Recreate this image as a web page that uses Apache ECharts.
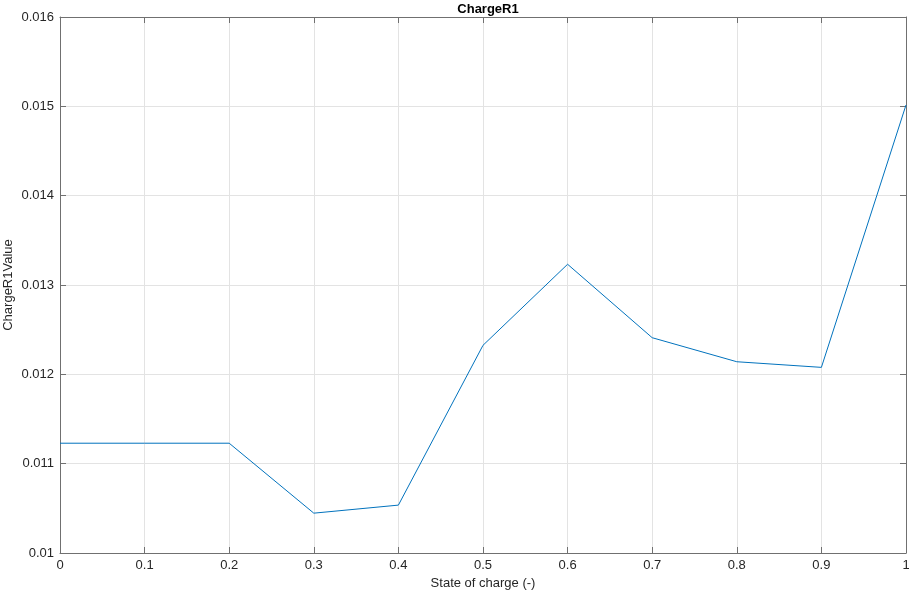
<!DOCTYPE html>
<html><head><meta charset="utf-8">
<script src="https://cdn.jsdelivr.net/npm/echarts@6/dist/echarts.min.js"></script>
<style>html,body{margin:0;padding:0;background:#fff}#c{width:909px;height:593px}</style>
</head><body><div id="c"></div>
<script>
const xValues = [0, 0.1, 0.2, 0.3, 0.4, 0.5, 0.6, 0.7, 0.8, 0.9, 1.0];
const yValues = [0.011229, 0.011229, 0.011229, 0.010446, 0.010536, 0.012325, 0.013232, 0.01241, 0.012141, 0.012078, 0.015015];
const xTicks = [0, 0.1, 0.2, 0.3, 0.4, 0.5, 0.6, 0.7, 0.8, 0.9, 1];
const yTicks = [0.01, 0.011, 0.012, 0.013, 0.014, 0.015, 0.016];

const font = 'Liberation Sans, Arial, sans-serif';
const axisCol = '#707070';
const chart = echarts.init(document.getElementById('c'));
const common = {
  axisLine: {show: true, onZero: false, lineStyle: {color: axisCol, width: 1}},
  axisTick: {show: true, inside: true, length: 6, lineStyle: {color: axisCol}},
  minorTick: {show: false}
};
chart.setOption({
  animation: false,
  title: {text: 'ChargeR1', left: 483, top: -2, textAlign: 'center',
    textStyle: {fontFamily: font, fontSize: 13, fontWeight: 'bold', color: '#000'}},
  grid: {left: 60, right: 3, top: 17, bottom: 40, containLabel: false, outerBoundsMode: 'none'},
  xAxis: [
    Object.assign({type: 'value', min: 0, max: 1, interval: 0.1, position: 'bottom',
      name: 'State of charge (-)', nameLocation: 'middle', nameGap: 24, nameMoveOverlap: false,
      nameTextStyle: {fontFamily: font, fontSize: 13, color: '#262626'},
      axisLabel: {fontFamily: font, fontSize: 13, color: '#262626', margin: 6,
        formatter: v => xTicks.includes(Math.round(v*10)/10) ? String(Math.round(v*10)/10) : ''},
      splitLine: {show: true, lineStyle: {color: '#e3e3e3', width: 1}}}, common),
    Object.assign({type: 'value', min: 0, max: 1, interval: 0.1, position: 'top',
      axisLabel: {show: false}, splitLine: {show: false}}, common)
  ],
  yAxis: [
    Object.assign({type: 'value', min: 0.01, max: 0.016, interval: 0.001, position: 'left',
      name: 'ChargeR1Value', nameLocation: 'middle', nameGap: 45, nameMoveOverlap: false,
      nameTextStyle: {fontFamily: font, fontSize: 13, color: '#262626'},
      axisLabel: {fontFamily: font, fontSize: 13, color: '#262626', margin: 6,
        formatter: v => String(Math.round(v*1000)/1000)},
      splitLine: {show: true, lineStyle: {color: '#e3e3e3', width: 1}}}, common),
    Object.assign({type: 'value', min: 0.01, max: 0.016, interval: 0.001, position: 'right',
      axisLabel: {show: false}, splitLine: {show: false}}, common)
  ],
  series: [{
    type: 'line', data: xValues.map((x, i) => [x, yValues[i]]),
    showSymbol: false, symbol: 'none',
    lineStyle: {color: '#0072bd', width: 1}
  }]
});
</script></body></html>
